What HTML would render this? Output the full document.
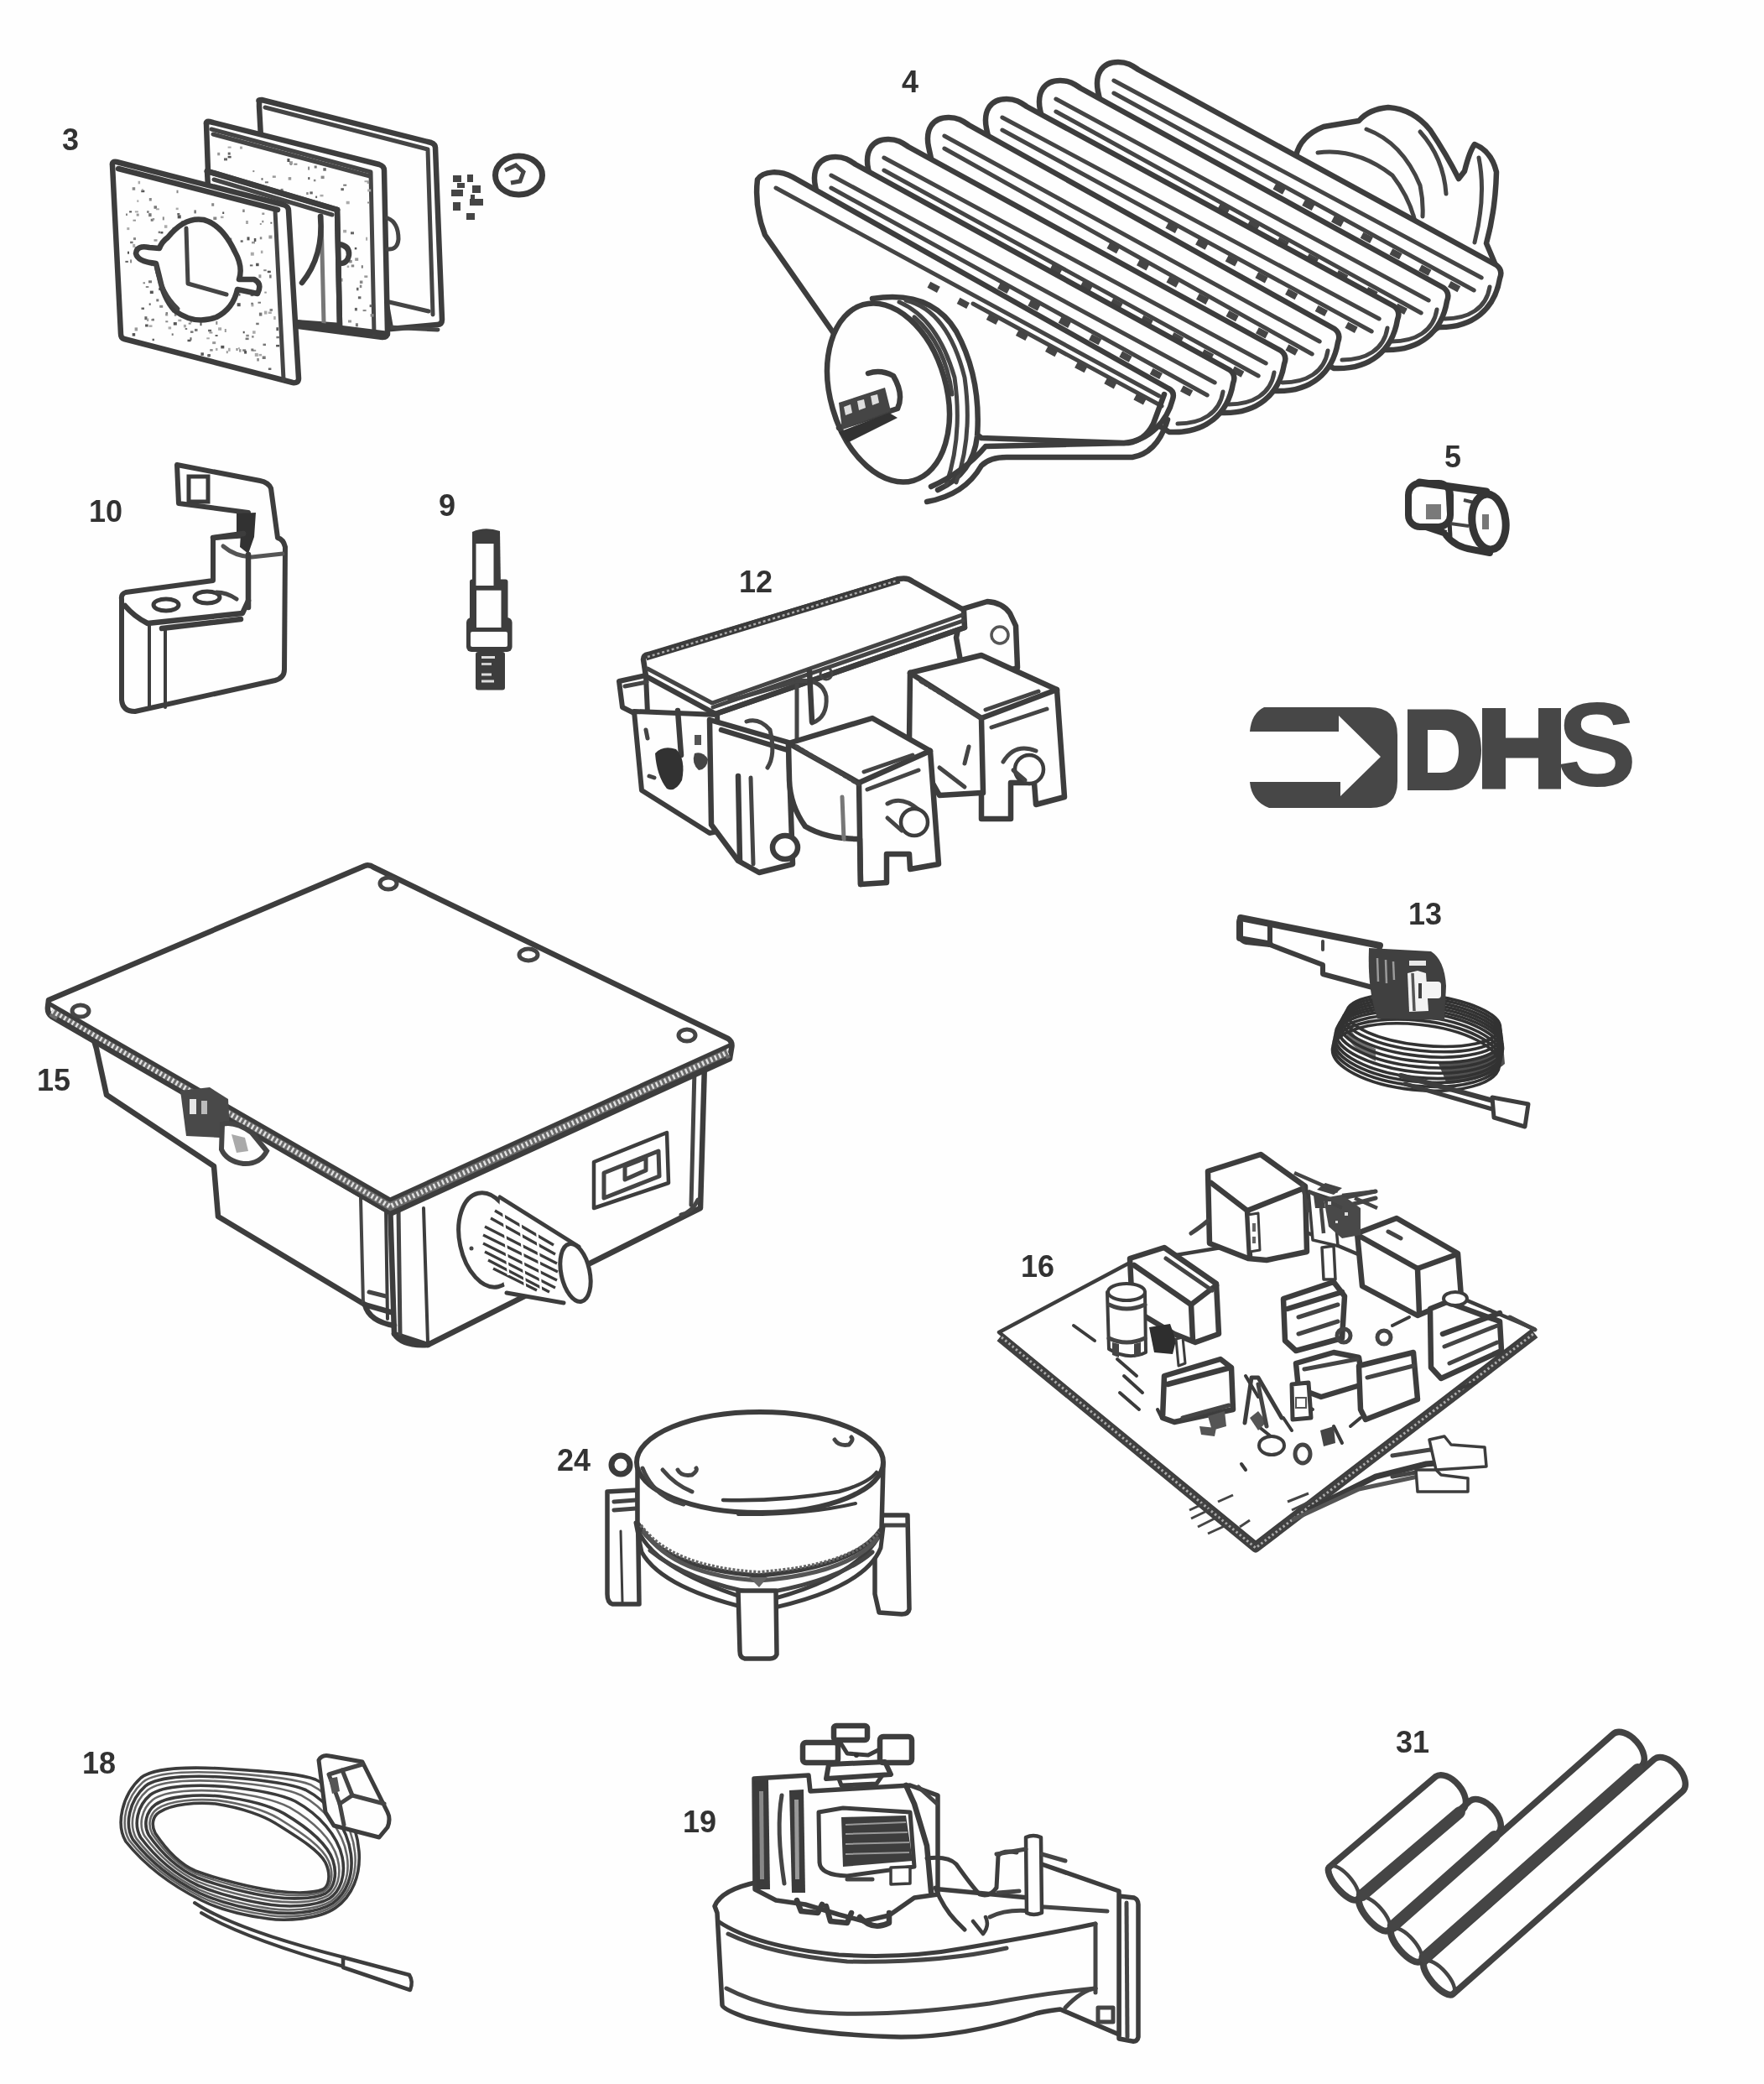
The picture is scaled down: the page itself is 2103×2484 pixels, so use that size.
<!DOCTYPE html>
<html><head><meta charset="utf-8"><title>Parts</title>
<style>
html,body{margin:0;padding:0;background:#fefefe;}
body{width:2103px;height:2484px;overflow:hidden;}
svg{display:block;}
.lb{font-family:"Liberation Sans",sans-serif;font-weight:bold;font-size:36px;fill:#333;}
.s{fill:none;stroke:#3e3e3e;stroke-width:6.5;stroke-linejoin:round;stroke-linecap:round;}
.t{fill:none;stroke:#444;stroke-width:5;stroke-linejoin:round;stroke-linecap:round;}
.w{fill:#fefefe;stroke:#3e3e3e;stroke-width:6.5;stroke-linejoin:round;stroke-linecap:round;}
.k{fill:#3a3a3a;stroke:none;}
</style></head>
<body>
<svg width="2103" height="2484" viewBox="0 0 2103 2484">
<defs><filter id="soft" filterUnits="userSpaceOnUse" x="0" y="0" width="2103" height="2484"><feGaussianBlur stdDeviation="0.7"/></filter></defs>
<rect width="2103" height="2484" fill="#fefefe"/>
<g filter="url(#soft)">
<!-- labels -->
<g class="lb">
<text x="74" y="179">3</text>
<text x="1075" y="110">4</text>
<text x="1722" y="557">5</text>
<text x="106" y="622">10</text>
<text x="523" y="615">9</text>
<text x="881" y="706">12</text>
<text x="1679" y="1102">13</text>
<text x="44" y="1300">15</text>
<text x="1217" y="1522">16</text>
<text x="664" y="1753">24</text>
<text x="98" y="2114">18</text>
<text x="814" y="2184">19</text>
<text x="1664" y="2089">31</text>
</g>
<!--DHS-->
<g fill="#474747">
<path d="M1490,872 L1596,872 L1596,853 L1646,902 L1598,949 L1598,932 L1490,932 Q1492,955 1513,963 L1634,963 Q1666,963 1666,931 L1666,876 Q1666,843 1632,843 L1507,843 Q1492,850 1490,872 Z"/>
<path fill-rule="evenodd" d="M1678,845.5 L1726,845.5 C1754,845.5 1766,868 1766,894 C1766,920 1754,942 1726,942 L1678,942 Z M1702,870 L1718,870 C1733,870 1739,881 1739,895 C1739,910 1733,921 1718,921 L1702,921 Z"/>
<path d="M1767,844 L1795,844 L1795,879.5 L1834,879.5 L1834,844 L1861,844 L1861,940.5 L1834,940.5 L1834,903.5 L1795,903.5 L1795,940.5 L1767,940.5 Z"/>
<text x="1856" y="937" font-family="Liberation Sans" font-weight="bold" font-size="143" transform="translate(1856,937) scale(1.0,1) translate(-1856,-937)">S</text>
</g>
<!--C3-->
<g>
<!-- back plate -->
<path class="w" d="M309,121 Q307,119 312,119 L514,170 Q519,172 519,176 L527,381 Q527,387 521,387 L466,392 L460,358 L320,330 L309,127 Z"/>
<path class="t" d="M316,128 L510,178 L516,375"/>
<path class="t" d="M464,360 L511,371"/>
<path class="t" d="M462,390 L522,393"/>
<!-- middle plate -->
<path class="w" d="M246,148 Q245,144 250,145 L452,196 Q458,198 458,203 L462,396 Q462,402 456,402 L356,389 L250,262 Z"/>
<path class="t" d="M252,154 L442,205 L446,398"/>
<path class="t" d="M254,160 L441,210"/>
<rect x="341.7" y="291.6" width="3.5" height="3.5" fill="#999"/><rect x="412.7" y="239.8" width="4" height="3.5" fill="#aaa"/><rect x="369.3" y="228.4" width="3.5" height="3" fill="#666"/><rect x="277.6" y="326.0" width="2" height="4" fill="#888"/><rect x="434.3" y="328.4" width="4" height="2.5" fill="#999"/><rect x="262.8" y="268.6" width="2" height="2" fill="#666"/><rect x="418.7" y="315.4" width="3.5" height="3" fill="#888"/><rect x="365.2" y="229.1" width="2.5" height="3" fill="#888"/><rect x="259.2" y="181.8" width="3" height="3.5" fill="#999"/><rect x="440.6" y="363.1" width="3" height="3" fill="#666"/><rect x="350.4" y="194.7" width="4" height="2" fill="#888"/><rect x="278.6" y="226.3" width="2" height="2" fill="#aaa"/><rect x="258.9" y="205.9" width="2" height="3.5" fill="#888"/><rect x="436.1" y="282.7" width="2" height="4" fill="#aaa"/><rect x="296.4" y="303.9" width="3" height="2" fill="#777"/><rect x="321.7" y="363.8" width="2" height="2.5" fill="#666"/><rect x="385.3" y="200.2" width="3.5" height="3.5" fill="#666"/><rect x="381.5" y="231.9" width="4" height="2.5" fill="#aaa"/><rect x="398.2" y="278.1" width="3.5" height="2" fill="#888"/><rect x="334.6" y="224.9" width="3" height="4" fill="#777"/><rect x="437.7" y="215.4" width="2.5" height="3.5" fill="#999"/><rect x="373.9" y="213.8" width="2.5" height="2.5" fill="#888"/><rect x="307.6" y="324.8" width="3" height="3" fill="#888"/><rect x="271.6" y="185.9" width="4" height="2.5" fill="#555"/><rect x="367.7" y="262.4" width="3.5" height="2.5" fill="#999"/><rect x="347.4" y="295.6" width="3.5" height="2.5" fill="#aaa"/><rect x="289.4" y="347.3" width="4" height="2.5" fill="#aaa"/><rect x="295.1" y="316.0" width="4" height="2.5" fill="#aaa"/><rect x="432.6" y="369.1" width="4" height="2" fill="#888"/><rect x="267.0" y="188.4" width="4" height="3" fill="#666"/><rect x="392.7" y="271.8" width="3.5" height="4" fill="#888"/><rect x="311.5" y="212.2" width="2" height="2.5" fill="#666"/><rect x="346.9" y="310.3" width="4" height="4" fill="#555"/><rect x="312.1" y="353.2" width="2.5" height="2" fill="#555"/><rect x="308.2" y="262.8" width="2" height="2" fill="#666"/><rect x="310.9" y="279.6" width="2.5" height="2" fill="#777"/><rect x="284.7" y="258.4" width="3" height="4" fill="#999"/><rect x="430.8" y="316.2" width="2" height="3.5" fill="#777"/><rect x="388.0" y="375.6" width="2" height="4" fill="#aaa"/><rect x="271.7" y="181.6" width="3" height="3" fill="#666"/><rect x="438.2" y="225.5" width="4" height="3" fill="#aaa"/><rect x="269.7" y="349.0" width="2.5" height="3" fill="#777"/><rect x="275.2" y="260.7" width="2" height="3.5" fill="#555"/><rect x="415.7" y="309.9" width="4" height="3.5" fill="#888"/><rect x="365.3" y="305.8" width="2" height="2" fill="#aaa"/><rect x="279.8" y="220.1" width="3.5" height="3" fill="#888"/><rect x="428.9" y="334.5" width="3.5" height="3.5" fill="#888"/><rect x="409.2" y="219.7" width="4" height="2" fill="#777"/><rect x="368.2" y="282.7" width="2.5" height="2" fill="#888"/><rect x="401.0" y="322.7" width="3.5" height="3" fill="#555"/><rect x="324.8" y="209.4" width="4" height="2.5" fill="#999"/><rect x="292.2" y="347.3" width="3.5" height="3.5" fill="#666"/><rect x="319.5" y="307.0" width="2.5" height="3.5" fill="#666"/><rect x="418.0" y="276.3" width="4" height="3" fill="#666"/><rect x="284.5" y="267.2" width="2" height="2" fill="#777"/><rect x="406.4" y="224.2" width="3.5" height="3" fill="#666"/><rect x="409.1" y="273.9" width="4" height="3.5" fill="#aaa"/><rect x="318.1" y="339.5" width="4" height="3.5" fill="#777"/><rect x="271.6" y="174.6" width="4" height="2" fill="#aaa"/><rect x="387.8" y="303.5" width="3" height="4" fill="#555"/><rect x="375.0" y="270.2" width="2.5" height="2" fill="#777"/><rect x="301.3" y="203.1" width="2" height="2" fill="#888"/><rect x="279.8" y="273.6" width="3" height="2" fill="#aaa"/><rect x="296.9" y="332.5" width="3" height="2.5" fill="#aaa"/><rect x="261.8" y="257.5" width="2" height="2.5" fill="#666"/><rect x="308.4" y="243.8" width="4" height="4" fill="#999"/><rect x="438.1" y="240.5" width="2.5" height="2" fill="#888"/><rect x="428.8" y="339.6" width="2.5" height="3.5" fill="#888"/><rect x="297.0" y="344.7" width="2" height="3.5" fill="#999"/><rect x="363.9" y="355.7" width="3" height="3.5" fill="#777"/><rect x="376.1" y="233.6" width="2" height="2.5" fill="#666"/><rect x="423.9" y="385.3" width="3" height="4" fill="#777"/><rect x="308.0" y="314.5" width="2" height="3" fill="#999"/><rect x="274.7" y="254.3" width="4" height="3.5" fill="#777"/><rect x="345.9" y="193.2" width="2" height="3.5" fill="#555"/><rect x="290.5" y="237.6" width="2.5" height="3.5" fill="#666"/><rect x="441.6" y="374.1" width="4" height="3.5" fill="#888"/><rect x="365.0" y="320.6" width="2.5" height="3.5" fill="#999"/><rect x="361.9" y="346.4" width="4" height="2.5" fill="#999"/><rect x="354.2" y="359.1" width="3" height="3" fill="#aaa"/><rect x="330.0" y="342.9" width="4" height="2.5" fill="#777"/><rect x="415.0" y="381.5" width="4" height="3" fill="#999"/><rect x="349.2" y="265.5" width="2" height="4" fill="#555"/><rect x="367.1" y="198.6" width="2" height="4" fill="#888"/><rect x="359.9" y="375.4" width="2" height="3.5" fill="#555"/><rect x="382.6" y="209.6" width="4" height="3.5" fill="#888"/><rect x="426.9" y="353.3" width="3.5" height="3" fill="#666"/><rect x="343.7" y="211.1" width="3.5" height="3.5" fill="#999"/><rect x="315.9" y="216.3" width="4" height="2" fill="#777"/><rect x="284.4" y="321.5" width="2" height="2" fill="#666"/><rect x="286.0" y="174.6" width="3" height="3" fill="#aaa"/><rect x="324.4" y="299.3" width="2" height="3.5" fill="#aaa"/><rect x="366.2" y="351.0" width="4" height="3" fill="#aaa"/><rect x="295.7" y="276.1" width="3.5" height="2" fill="#888"/><rect x="375.2" y="347.8" width="4" height="2.5" fill="#999"/><rect x="297.3" y="295.8" width="2.5" height="4" fill="#666"/><rect x="413.7" y="316.5" width="2.5" height="2.5" fill="#aaa"/><rect x="372.4" y="259.0" width="2.5" height="3" fill="#999"/><rect x="318.4" y="355.4" width="2.5" height="2.5" fill="#555"/><rect x="283.1" y="217.5" width="2" height="3" fill="#888"/><rect x="278.8" y="330.6" width="3.5" height="4" fill="#aaa"/><rect x="282.3" y="248.7" width="2" height="2" fill="#666"/><rect x="362.0" y="258.5" width="3" height="2" fill="#aaa"/><rect x="352.1" y="330.9" width="4" height="2.5" fill="#555"/><rect x="344.9" y="192.2" width="4" height="4" fill="#999"/><rect x="422.8" y="294.9" width="2.5" height="2.5" fill="#555"/><rect x="298.1" y="335.9" width="3" height="2" fill="#999"/><rect x="273.0" y="352.6" width="3.5" height="2" fill="#555"/><rect x="318.7" y="269.1" width="4" height="3" fill="#888"/><rect x="297.3" y="246.5" width="2" height="2.5" fill="#666"/><rect x="332.9" y="252.1" width="3" height="3.5" fill="#666"/><rect x="367.3" y="211.1" width="2" height="3" fill="#555"/><rect x="405.1" y="331.6" width="3.5" height="4" fill="#999"/><rect x="294.7" y="286.3" width="3" height="3" fill="#777"/><rect x="425.0" y="342.8" width="2.5" height="3.5" fill="#666"/><rect x="422.9" y="366.9" width="3" height="3.5" fill="#666"/><rect x="333.9" y="320.6" width="2" height="3" fill="#777"/><rect x="342.4" y="189.0" width="3" height="4" fill="#555"/><rect x="303.6" y="356.8" width="3" height="3" fill="#666"/><rect x="379.0" y="301.4" width="4" height="2" fill="#888"/><rect x="352.6" y="282.4" width="2.5" height="2" fill="#888"/><rect x="434.5" y="215.2" width="4" height="2" fill="#aaa"/><rect x="302.4" y="261.1" width="4" height="2" fill="#666"/><rect x="374.7" y="197.5" width="3" height="3" fill="#777"/><rect x="423.2" y="307.4" width="4" height="3.5" fill="#999"/><rect x="364.2" y="377.3" width="3.5" height="2" fill="#999"/><rect x="368.6" y="334.3" width="2" height="3.5" fill="#666"/><rect x="331.3" y="366.7" width="3.5" height="4" fill="#999"/><rect x="367.1" y="273.0" width="3.5" height="3.5" fill="#777"/><rect x="355.2" y="301.6" width="3" height="4" fill="#777"/>

<!-- spacer -->
<path class="w" d="M247,204 L402,250 L405,388 L350,384 L250,262 Z"/>
<path class="s" d="M247,204 L402,250" style="stroke-width:7"/>
<path class="t" d="M255,214 L396,256"/>
<path class="s" d="M402,250 L405,388"/>
<path class="t" d="M383,257 L386,385" style="stroke:#777"/>
<path class="s" d="M382,258 Q386,305 360,337"/>
<path class="s" d="M404,291 Q417,293 416,304 Q414,315 404,314"/>
<path class="t" d="M462,260 Q475,265 475,285 Q474,298 462,297"/>
<path class="s" d="M350,384 L462,398"/>
<!-- front plate -->
<path class="w" d="M134,197 Q133,192 139,193 L338,244 Q344,246 344,251 L356,451 Q356,457 349,456 L148,404 Q144,403 144,398 Z"/>
<path class="t" d="M328,251 L338,452"/>
<path class="s" d="M141,201 L331,250"/>
<rect x="233.9" y="282.1" width="3" height="3" fill="#555"/><rect x="150.0" y="254.5" width="2" height="2.5" fill="#888"/><rect x="283.3" y="318.2" width="3" height="3.5" fill="#555"/><rect x="254.7" y="373.2" width="3" height="2" fill="#666"/><rect x="225.7" y="319.1" width="2.5" height="2" fill="#999"/><rect x="168.5" y="366.5" width="3.5" height="2.5" fill="#666"/><rect x="254.3" y="258.5" width="4" height="3.5" fill="#888"/><rect x="172.4" y="377.2" width="3" height="4" fill="#666"/><rect x="170.9" y="297.6" width="3.5" height="3.5" fill="#999"/><rect x="196.5" y="330.9" width="3.5" height="3" fill="#aaa"/><rect x="247.5" y="423.0" width="3" height="2.5" fill="#666"/><rect x="235.1" y="326.4" width="3" height="4" fill="#999"/><rect x="298.8" y="300.7" width="4" height="4" fill="#aaa"/><rect x="255.9" y="356.5" width="2.5" height="2.5" fill="#666"/><rect x="240.0" y="356.0" width="2.5" height="2" fill="#aaa"/><rect x="158.5" y="261.7" width="3.5" height="2" fill="#999"/><rect x="154.1" y="251.4" width="3" height="2" fill="#555"/><rect x="309.8" y="282.3" width="2.5" height="3" fill="#888"/><rect x="232.6" y="270.6" width="3" height="3.5" fill="#aaa"/><rect x="175.2" y="379.5" width="2" height="3.5" fill="#999"/><rect x="301.1" y="394.3" width="3.5" height="3.5" fill="#aaa"/><rect x="197.2" y="374.1" width="3" height="2.5" fill="#aaa"/><rect x="299.4" y="361.4" width="3" height="4" fill="#aaa"/><rect x="294.5" y="282.4" width="3" height="4" fill="#555"/><rect x="230.5" y="291.4" width="4" height="2" fill="#888"/><rect x="249.9" y="327.0" width="3.5" height="3" fill="#555"/><rect x="160.9" y="251.4" width="4" height="2" fill="#aaa"/><rect x="204.9" y="360.1" width="3" height="3" fill="#666"/><rect x="189.2" y="343.1" width="3" height="3" fill="#555"/><rect x="206.3" y="306.9" width="4" height="3" fill="#888"/><rect x="247.4" y="422.0" width="3.5" height="3" fill="#666"/><rect x="223.5" y="404.7" width="4" height="2.5" fill="#555"/><rect x="212.8" y="294.4" width="3" height="3.5" fill="#999"/><rect x="216.3" y="263.2" width="4" height="3" fill="#888"/><rect x="248.1" y="392.8" width="4" height="2.5" fill="#666"/><rect x="164.8" y="298.1" width="3" height="2" fill="#666"/><rect x="241.6" y="335.9" width="4" height="3" fill="#555"/><rect x="267.8" y="392.0" width="2" height="4" fill="#999"/><rect x="204.0" y="326.0" width="3" height="2" fill="#777"/><rect x="283.9" y="414.2" width="2" height="2" fill="#aaa"/><rect x="263.0" y="257.6" width="3.5" height="2.5" fill="#aaa"/><rect x="190.2" y="363.8" width="4" height="3" fill="#888"/><rect x="218.5" y="290.7" width="3" height="2.5" fill="#888"/><rect x="238.5" y="384.2" width="2" height="4" fill="#555"/><rect x="224.7" y="384.6" width="3" height="2" fill="#888"/><rect x="301.2" y="416.8" width="4" height="2" fill="#999"/><rect x="210.5" y="226.7" width="2" height="3.5" fill="#888"/><rect x="310.9" y="298.6" width="2.5" height="3.5" fill="#aaa"/><rect x="177.1" y="254.2" width="3.5" height="4" fill="#777"/><rect x="200.6" y="389.4" width="3.5" height="3" fill="#aaa"/><rect x="170.5" y="336.3" width="2.5" height="2" fill="#888"/><rect x="152.0" y="299.7" width="2" height="3" fill="#555"/><rect x="183.5" y="285.2" width="4" height="2.5" fill="#999"/><rect x="278.1" y="355.3" width="2.5" height="3.5" fill="#666"/><rect x="308.4" y="327.3" width="3" height="4" fill="#999"/><rect x="233.2" y="280.1" width="3.5" height="3" fill="#aaa"/><rect x="250.2" y="416.1" width="3.5" height="2.5" fill="#888"/><rect x="160.6" y="390.4" width="3.5" height="4" fill="#999"/><rect x="289.7" y="394.8" width="2" height="2.5" fill="#555"/><rect x="308.6" y="421.9" width="3.5" height="2.5" fill="#aaa"/><rect x="227.0" y="394.4" width="3.5" height="2.5" fill="#777"/><rect x="177.5" y="387.4" width="4" height="2.5" fill="#aaa"/><rect x="282.7" y="361.2" width="4" height="4" fill="#555"/><rect x="177.7" y="361.4" width="2" height="2.5" fill="#666"/><rect x="293.0" y="263.0" width="3" height="4" fill="#aaa"/><rect x="246.3" y="402.3" width="3.5" height="2" fill="#aaa"/><rect x="256.6" y="399.0" width="3" height="2" fill="#666"/><rect x="226.5" y="402.2" width="2" height="3.5" fill="#666"/><rect x="155.1" y="287.7" width="3.5" height="2.5" fill="#777"/><rect x="205.0" y="299.8" width="4" height="3" fill="#888"/><rect x="265.2" y="252.5" width="2" height="2.5" fill="#555"/><rect x="269.8" y="368.4" width="2" height="3.5" fill="#555"/><rect x="305.2" y="384.7" width="3.5" height="2.5" fill="#777"/><rect x="249.7" y="321.9" width="2" height="2.5" fill="#999"/><rect x="177.0" y="334.3" width="4" height="3" fill="#777"/><rect x="284.5" y="349.7" width="2" height="3" fill="#666"/><rect x="186.3" y="356.4" width="3" height="3" fill="#777"/><rect x="251.3" y="372.4" width="3" height="3.5" fill="#888"/><rect x="163.3" y="238.4" width="2" height="2.5" fill="#aaa"/><rect x="259.5" y="272.0" width="2.5" height="3.5" fill="#555"/><rect x="299.5" y="360.7" width="2" height="2" fill="#666"/><rect x="157.7" y="397.1" width="3.5" height="3.5" fill="#555"/><rect x="212.3" y="380.7" width="4" height="2.5" fill="#aaa"/><rect x="183.5" y="245.3" width="3.5" height="3.5" fill="#777"/><rect x="314.9" y="370.6" width="3.5" height="4" fill="#aaa"/><rect x="207.8" y="373.0" width="2.5" height="4" fill="#999"/><rect x="151.3" y="271.1" width="3" height="3" fill="#aaa"/><rect x="228.4" y="334.8" width="2.5" height="4" fill="#777"/><rect x="292.6" y="402.6" width="4" height="2.5" fill="#777"/><rect x="289.2" y="416.3" width="4" height="2.5" fill="#777"/><rect x="258.6" y="334.7" width="4" height="2.5" fill="#999"/><rect x="329.4" y="390.2" width="2.5" height="4" fill="#555"/><rect x="259.1" y="275.4" width="2" height="2.5" fill="#666"/><rect x="234.0" y="310.0" width="3" height="3" fill="#555"/><rect x="314.2" y="321.2" width="3.5" height="2" fill="#888"/><rect x="320.4" y="280.5" width="4" height="4" fill="#999"/><rect x="249.8" y="341.2" width="3" height="2.5" fill="#aaa"/><rect x="329.1" y="410.9" width="4" height="2.5" fill="#555"/><rect x="312.3" y="253.5" width="3" height="2.5" fill="#999"/><rect x="211.7" y="256.4" width="4" height="4" fill="#555"/><rect x="229.7" y="306.1" width="2.5" height="3" fill="#aaa"/><rect x="303.8" y="420.9" width="4" height="4" fill="#aaa"/><rect x="289.2" y="249.5" width="2.5" height="3.5" fill="#888"/><rect x="155.1" y="309.4" width="2" height="4" fill="#888"/><rect x="180.2" y="314.7" width="3" height="2.5" fill="#999"/><rect x="312.3" y="262.8" width="2" height="2.5" fill="#888"/><rect x="321.5" y="368.0" width="3.5" height="3" fill="#888"/><rect x="312.7" y="424.5" width="4" height="3.5" fill="#777"/><rect x="239.4" y="420.3" width="3.5" height="3.5" fill="#555"/><rect x="253.2" y="407.1" width="4" height="3" fill="#999"/><rect x="241.6" y="312.6" width="2" height="3" fill="#555"/><rect x="202.8" y="339.0" width="3.5" height="3.5" fill="#999"/><rect x="208.5" y="373.3" width="4" height="2" fill="#666"/><rect x="170.9" y="298.4" width="4" height="3.5" fill="#555"/><rect x="231.4" y="250.4" width="2.5" height="4" fill="#777"/><rect x="269.8" y="418.2" width="2" height="3" fill="#999"/><rect x="226.5" y="381.1" width="2.5" height="3.5" fill="#999"/><rect x="168.3" y="226.7" width="4" height="2.5" fill="#555"/><rect x="307.5" y="359.7" width="3.5" height="2" fill="#777"/><rect x="191.4" y="276.0" width="3" height="2.5" fill="#555"/><rect x="227.6" y="314.4" width="4" height="3.5" fill="#666"/><rect x="213.4" y="336.1" width="2" height="3" fill="#555"/><rect x="229.1" y="289.1" width="3" height="3.5" fill="#666"/><rect x="319.9" y="438.5" width="3.5" height="2.5" fill="#666"/><rect x="204.7" y="397.4" width="2" height="2.5" fill="#777"/><rect x="297.9" y="315.4" width="3.5" height="2" fill="#666"/><rect x="264.2" y="371.0" width="4" height="2.5" fill="#999"/><rect x="260.0" y="274.4" width="2" height="2" fill="#777"/><rect x="277.5" y="302.1" width="3" height="3.5" fill="#aaa"/><rect x="305.1" y="313.7" width="3.5" height="3.5" fill="#555"/><rect x="181.6" y="379.7" width="2" height="2.5" fill="#777"/><rect x="179.7" y="260.8" width="3" height="3" fill="#777"/><rect x="293.1" y="346.1" width="2" height="4" fill="#999"/><rect x="188.7" y="275.6" width="2.5" height="2.5" fill="#777"/><rect x="173.8" y="341.0" width="3.5" height="2" fill="#888"/><rect x="309.8" y="266.0" width="2" height="2" fill="#999"/><rect x="254.3" y="338.0" width="3.5" height="4" fill="#555"/><rect x="181.5" y="403.7" width="2.5" height="2.5" fill="#666"/><rect x="199.3" y="325.2" width="2.5" height="2.5" fill="#555"/><rect x="263.3" y="411.9" width="4" height="3.5" fill="#555"/><rect x="315.3" y="347.6" width="2.5" height="2" fill="#999"/><rect x="291.1" y="418.1" width="3" height="3.5" fill="#555"/><rect x="241.5" y="328.6" width="4" height="4" fill="#666"/><rect x="257.3" y="382.9" width="2" height="4" fill="#888"/><rect x="190.7" y="302.6" width="3" height="2.5" fill="#777"/><rect x="234.6" y="273.1" width="4" height="4" fill="#888"/><rect x="193.8" y="258.4" width="2" height="4" fill="#888"/><rect x="302.8" y="284.0" width="2.5" height="4" fill="#555"/><rect x="260.1" y="390.3" width="4" height="3.5" fill="#aaa"/><rect x="198.0" y="372.2" width="2" height="2" fill="#666"/><rect x="251.1" y="338.3" width="2.5" height="4" fill="#666"/><rect x="158.2" y="290.9" width="3" height="4" fill="#aaa"/><rect x="241.4" y="283.2" width="4" height="3.5" fill="#555"/><rect x="265.4" y="336.0" width="3.5" height="3" fill="#666"/><rect x="178.8" y="346.6" width="4" height="3.5" fill="#555"/><rect x="205.3" y="311.5" width="2.5" height="2" fill="#666"/><rect x="238.5" y="376.0" width="2.5" height="2.5" fill="#aaa"/><rect x="232.2" y="371.3" width="2" height="2" fill="#666"/><rect x="222.5" y="327.3" width="2" height="3.5" fill="#999"/><rect x="201.9" y="302.5" width="2" height="2" fill="#aaa"/><rect x="329.4" y="400.8" width="4" height="2.5" fill="#777"/><rect x="194.7" y="324.7" width="2.5" height="3.5" fill="#888"/><rect x="162.7" y="254.6" width="3" height="3" fill="#999"/><rect x="185.9" y="248.3" width="4" height="2" fill="#aaa"/><rect x="211.7" y="356.3" width="4" height="2.5" fill="#888"/><rect x="306.3" y="427.0" width="2.5" height="3.5" fill="#888"/><rect x="286.7" y="286.3" width="3" height="2.5" fill="#666"/><rect x="293.3" y="398.8" width="3.5" height="2.5" fill="#888"/><rect x="187.2" y="306.7" width="3" height="3.5" fill="#888"/><rect x="237.6" y="350.4" width="2.5" height="3.5" fill="#666"/><rect x="245.1" y="313.3" width="2" height="3" fill="#777"/><rect x="319.8" y="371.5" width="4" height="2.5" fill="#aaa"/><rect x="195.3" y="294.8" width="2.5" height="3" fill="#555"/><rect x="211.3" y="254.0" width="3" height="2.5" fill="#666"/><rect x="281.5" y="415.0" width="2" height="3" fill="#888"/><rect x="232.0" y="391.9" width="3.5" height="3" fill="#777"/><rect x="287.1" y="343.6" width="2" height="3" fill="#888"/><rect x="257.7" y="329.8" width="2.5" height="2.5" fill="#999"/><rect x="252.2" y="242.2" width="3" height="3.5" fill="#888"/><rect x="236.0" y="362.7" width="4" height="4" fill="#777"/><rect x="204.9" y="308.5" width="3.5" height="2.5" fill="#666"/><rect x="298.7" y="349.6" width="3.5" height="3.5" fill="#666"/><rect x="220.7" y="391.0" width="2.5" height="2" fill="#777"/><rect x="216.1" y="341.7" width="2.5" height="2" fill="#555"/><rect x="282.6" y="335.5" width="2" height="3" fill="#aaa"/><rect x="272.1" y="414.8" width="2.5" height="4" fill="#aaa"/><rect x="209.7" y="247.6" width="3" height="2.5" fill="#aaa"/><rect x="197.4" y="372.2" width="2" height="3.5" fill="#888"/><rect x="159.0" y="283.1" width="3" height="3" fill="#888"/><rect x="272.8" y="283.6" width="3.5" height="2.5" fill="#888"/><rect x="285.4" y="311.4" width="2.5" height="4" fill="#555"/><rect x="285.0" y="416.1" width="2.5" height="3.5" fill="#999"/><rect x="197.3" y="382.3" width="3" height="2" fill="#888"/><rect x="173.1" y="386.5" width="3.5" height="3" fill="#555"/><rect x="218.9" y="386.9" width="3" height="3.5" fill="#aaa"/><rect x="205.6" y="271.3" width="2" height="2" fill="#777"/><rect x="206.1" y="294.0" width="3" height="3" fill="#aaa"/><rect x="308.9" y="372.6" width="3.5" height="4" fill="#777"/><rect x="318.8" y="322.7" width="4" height="2.5" fill="#555"/><rect x="262.2" y="355.9" width="3.5" height="4" fill="#888"/><rect x="157.7" y="223.2" width="3.5" height="3.5" fill="#888"/><rect x="321.1" y="327.5" width="2.5" height="4" fill="#777"/><rect x="203.3" y="290.8" width="2" height="2.5" fill="#999"/><rect x="181.7" y="260.0" width="2.5" height="2.5" fill="#999"/><rect x="149.4" y="310.9" width="3.5" height="2" fill="#666"/><rect x="249.4" y="395.5" width="4" height="2" fill="#999"/><rect x="299.3" y="415.5" width="3" height="3" fill="#777"/><rect x="164.6" y="215.8" width="2.5" height="3.5" fill="#aaa"/><rect x="175.1" y="251.3" width="2.5" height="2.5" fill="#777"/><rect x="260.2" y="330.9" width="4" height="3" fill="#777"/><rect x="222.3" y="297.2" width="4" height="3.5" fill="#666"/><rect x="263.7" y="307.6" width="2.5" height="4" fill="#aaa"/><rect x="168.8" y="225.2" width="2" height="2" fill="#aaa"/><rect x="206.8" y="384.1" width="4" height="3.5" fill="#555"/><rect x="180.4" y="380.3" width="3.5" height="2" fill="#777"/><rect x="194.5" y="316.2" width="3.5" height="3" fill="#aaa"/><rect x="261.7" y="308.1" width="3" height="2.5" fill="#777"/><rect x="300.0" y="287.9" width="4" height="2.5" fill="#999"/><rect x="326.2" y="377.0" width="2.5" height="4" fill="#aaa"/><rect x="300.1" y="400.1" width="2.5" height="2.5" fill="#888"/><rect x="258.7" y="293.0" width="2.5" height="2" fill="#888"/><rect x="257.0" y="414.9" width="2.5" height="3" fill="#aaa"/><rect x="195.9" y="268.3" width="3.5" height="3.5" fill="#aaa"/><rect x="322.4" y="264.7" width="2" height="2" fill="#666"/><rect x="201.7" y="360.5" width="2" height="3.5" fill="#777"/><rect x="313.5" y="409.6" width="3.5" height="2.5" fill="#777"/><rect x="160.7" y="294.1" width="3" height="2.5" fill="#888"/><rect x="277.5" y="320.0" width="2.5" height="4" fill="#888"/><rect x="267.7" y="281.3" width="3" height="2.5" fill="#888"/><rect x="177.8" y="236.0" width="3" height="3.5" fill="#888"/>

<!-- keyhole -->
<path class="w" d="M200,283 Q220,258 243,262 Q265,268 280,300 Q290,318 285,333 L303,333 Q313,338 307,350 L283,345 Q278,368 258,378 Q232,388 208,370 Q195,356 190,330 L186,314 Q164,312 162,302 Q163,292 178,295 L190,296 Q193,288 200,283 Z"/>
<path class="t" d="M222,272 L224,338 L270,351"/>
<path class="t" d="M186,316 Q192,350 212,368"/>
</g>
<!-- washer & nut -->
<g fill="#444">
<rect x="538" y="226" width="14" height="8"/><rect x="540" y="209" width="10" height="8"/><rect x="557" y="208" width="7" height="9"/>
<rect x="563" y="221" width="10" height="9"/><rect x="545" y="218" width="9" height="6"/><rect x="560" y="237" width="16" height="8"/>
<rect x="561" y="232" width="5" height="10"/><rect x="540" y="241" width="9" height="10"/><rect x="556" y="254" width="10" height="8"/>
</g>
<ellipse cx="618.5" cy="209" rx="28" ry="23" fill="none" stroke="#3a3a3a" stroke-width="7"/>
<path d="M602,203 L615,197 L624,205 L620,216 L609,218" fill="none" stroke="#444" stroke-width="5"/>

<!--C4-->
<path class="w" d="M1545,186 Q1550,162 1578,151 L1620,144 Q1632,130 1655,128 Q1685,130 1705,155 Q1725,185 1739,213 L1746,204 Q1752,180 1758,172 Q1778,180 1784,205 Q1783,250 1772,290 L1783,316 L1760,360 L1700,400 L1600,300 Z"/>
<path class="t" d="M1571,182 Q1617,176 1660,209 Q1680,235 1687,264"/>
<path class="t" d="M1629,154 Q1672,170 1693,221 Q1697,240 1696,258"/>
<path class="t" d="M1693,157 Q1721,188 1724,231"/>
<path class="t" d="M1763,188 Q1772,233 1758,289"/>
<path class="w" d="M1309.0,109.0 C1305.0,89.0 1313.0,74.0 1333.0,74.0 C1345.0,74.0 1351.0,79.0 1357.0,83.0 L1784.0,316.0 Q1792.0,322.0 1788.0,332.0 C1782.0,368.0 1756.0,392.0 1712.0,390.0 L1319.0,155.0 Z"/>
<path class="t" d="M1327.9,96.0 L1766.2,331.0"/>
<path class="t" d="M1327.9,111.0 L1757.2,346.0"/>
<path class="t" d="M1776.0,342.0 C1772.0,368.0 1750.0,380.0 1722.0,380.0"/>
<rect x="1518.7" y="220.9" width="13" height="8" fill="#444" transform="rotate(28 1524.7 224.9)"/>
<rect x="1553.4" y="240.3" width="13" height="8" fill="#444" transform="rotate(28 1559.4 244.3)"/>
<rect x="1588.2" y="259.7" width="13" height="8" fill="#444" transform="rotate(28 1594.2 263.7)"/>
<rect x="1622.9" y="279.1" width="13" height="8" fill="#444" transform="rotate(28 1628.9 283.1)"/>
<rect x="1657.7" y="298.5" width="13" height="8" fill="#444" transform="rotate(28 1663.7 302.5)"/>
<rect x="1692.4" y="317.9" width="13" height="8" fill="#444" transform="rotate(28 1698.4 321.9)"/>
<rect x="1727.2" y="337.4" width="13" height="8" fill="#444" transform="rotate(28 1733.2 341.4)"/>
<path class="w" d="M1240.0,131.0 C1236.0,111.0 1244.0,96.0 1264.0,96.0 C1276.0,96.0 1282.0,101.0 1288.0,105.0 L1721.0,343.0 Q1729.0,349.0 1725.0,359.0 C1719.0,395.0 1693.0,419.0 1649.0,417.0 L1250.0,177.0 Z"/>
<path class="t" d="M1258.9,118.0 L1703.2,358.0"/>
<path class="t" d="M1258.9,133.0 L1694.2,373.0"/>
<path class="t" d="M1713.0,369.0 C1709.0,395.0 1687.0,407.0 1659.0,407.0"/>
<rect x="1452.3" y="245.1" width="13" height="8" fill="#444" transform="rotate(28 1458.3 249.1)"/>
<rect x="1487.6" y="264.9" width="13" height="8" fill="#444" transform="rotate(28 1493.6 268.9)"/>
<rect x="1522.8" y="284.8" width="13" height="8" fill="#444" transform="rotate(28 1528.8 288.8)"/>
<rect x="1558.1" y="304.6" width="13" height="8" fill="#444" transform="rotate(28 1564.1 308.6)"/>
<rect x="1593.3" y="324.4" width="13" height="8" fill="#444" transform="rotate(28 1599.3 328.4)"/>
<rect x="1628.6" y="344.3" width="13" height="8" fill="#444" transform="rotate(28 1634.6 348.3)"/>
<rect x="1663.8" y="364.1" width="13" height="8" fill="#444" transform="rotate(28 1669.8 368.1)"/>
<path class="w" d="M1176.0,153.0 C1172.0,133.0 1180.0,118.0 1200.0,118.0 C1212.0,118.0 1218.0,123.0 1224.0,127.0 L1662.0,365.0 Q1670.0,371.0 1666.0,381.0 C1660.0,417.0 1634.0,441.0 1590.0,439.0 L1186.0,199.0 Z"/>
<path class="t" d="M1194.9,140.0 L1644.2,380.0"/>
<path class="t" d="M1194.9,155.0 L1635.2,395.0"/>
<path class="t" d="M1654.0,391.0 C1650.0,417.0 1628.0,429.0 1600.0,429.0"/>
<rect x="1390.6" y="267.1" width="13" height="8" fill="#444" transform="rotate(28 1396.6 271.1)"/>
<rect x="1426.3" y="286.9" width="13" height="8" fill="#444" transform="rotate(28 1432.3 290.9)"/>
<rect x="1461.9" y="306.8" width="13" height="8" fill="#444" transform="rotate(28 1467.9 310.8)"/>
<rect x="1497.6" y="326.6" width="13" height="8" fill="#444" transform="rotate(28 1503.6 330.6)"/>
<rect x="1533.3" y="346.4" width="13" height="8" fill="#444" transform="rotate(28 1539.3 350.4)"/>
<rect x="1568.9" y="366.3" width="13" height="8" fill="#444" transform="rotate(28 1574.9 370.3)"/>
<rect x="1604.6" y="386.1" width="13" height="8" fill="#444" transform="rotate(28 1610.6 390.1)"/>
<path class="w" d="M1107.0,175.0 C1103.0,155.0 1111.0,140.0 1131.0,140.0 C1143.0,140.0 1149.0,145.0 1155.0,149.0 L1591.0,392.0 Q1599.0,398.0 1595.0,408.0 C1589.0,444.0 1563.0,468.0 1519.0,466.0 L1117.0,221.0 Z"/>
<path class="t" d="M1125.9,162.0 L1573.2,407.0"/>
<path class="t" d="M1125.9,177.0 L1564.2,422.0"/>
<path class="t" d="M1583.0,418.0 C1579.0,444.0 1557.0,456.0 1529.0,456.0"/>
<rect x="1320.7" y="291.4" width="13" height="8" fill="#444" transform="rotate(28 1326.7 295.4)"/>
<rect x="1356.2" y="311.6" width="13" height="8" fill="#444" transform="rotate(28 1362.2 315.6)"/>
<rect x="1391.7" y="331.9" width="13" height="8" fill="#444" transform="rotate(28 1397.7 335.9)"/>
<rect x="1427.2" y="352.1" width="13" height="8" fill="#444" transform="rotate(28 1433.2 356.1)"/>
<rect x="1462.7" y="372.4" width="13" height="8" fill="#444" transform="rotate(28 1468.7 376.4)"/>
<rect x="1498.2" y="392.6" width="13" height="8" fill="#444" transform="rotate(28 1504.2 396.6)"/>
<rect x="1533.7" y="412.9" width="13" height="8" fill="#444" transform="rotate(28 1539.7 416.9)"/>
<path class="w" d="M1035.0,201.0 C1031.0,181.0 1039.0,166.0 1059.0,166.0 C1071.0,166.0 1077.0,171.0 1083.0,175.0 L1527.0,418.0 Q1535.0,424.0 1531.0,434.0 C1525.0,470.0 1499.0,494.0 1455.0,492.0 L1045.0,247.0 Z"/>
<path class="t" d="M1053.9,188.0 L1509.2,433.0"/>
<path class="t" d="M1053.9,203.0 L1500.2,448.0"/>
<path class="t" d="M1519.0,444.0 C1515.0,470.0 1493.0,482.0 1465.0,482.0"/>
<rect x="1252.3" y="317.4" width="13" height="8" fill="#444" transform="rotate(28 1258.3 321.4)"/>
<rect x="1288.5" y="337.6" width="13" height="8" fill="#444" transform="rotate(28 1294.5 341.6)"/>
<rect x="1324.6" y="357.9" width="13" height="8" fill="#444" transform="rotate(28 1330.6 361.9)"/>
<rect x="1360.8" y="378.1" width="13" height="8" fill="#444" transform="rotate(28 1366.8 382.1)"/>
<rect x="1397.0" y="398.4" width="13" height="8" fill="#444" transform="rotate(28 1403.0 402.4)"/>
<rect x="1433.1" y="418.6" width="13" height="8" fill="#444" transform="rotate(28 1439.1 422.6)"/>
<rect x="1469.3" y="438.9" width="13" height="8" fill="#444" transform="rotate(28 1475.3 442.9)"/>
<path class="w" d="M972.0,222.0 C968.0,202.0 976.0,187.0 996.0,187.0 C1008.0,187.0 1014.0,192.0 1020.0,196.0 L1466.0,441.0 Q1474.0,447.0 1470.0,457.0 C1464.0,493.0 1438.0,517.0 1394.0,515.0 L982.0,268.0 Z"/>
<path class="t" d="M990.9,209.0 L1448.2,456.0"/>
<path class="t" d="M990.9,224.0 L1439.2,471.0"/>
<path class="t" d="M1458.0,467.0 C1454.0,493.0 1432.0,505.0 1404.0,505.0"/>
<rect x="1190.2" y="339.2" width="13" height="8" fill="#444" transform="rotate(28 1196.2 343.2)"/>
<rect x="1226.5" y="359.7" width="13" height="8" fill="#444" transform="rotate(28 1232.5 363.7)"/>
<rect x="1262.9" y="380.1" width="13" height="8" fill="#444" transform="rotate(28 1268.9 384.1)"/>
<rect x="1299.2" y="400.5" width="13" height="8" fill="#444" transform="rotate(28 1305.2 404.5)"/>
<rect x="1335.5" y="420.9" width="13" height="8" fill="#444" transform="rotate(28 1341.5 424.9)"/>
<rect x="1371.9" y="441.3" width="13" height="8" fill="#444" transform="rotate(28 1377.9 445.3)"/>
<rect x="1408.2" y="461.8" width="13" height="8" fill="#444" transform="rotate(28 1414.2 465.8)"/>
<path class="t" d="M915.9,224.0 L1375.2,478.0"/>
<path class="t" d="M915.9,239.0 L1366.2,493.0"/>
<path class="t" d="M1385.0,489.0 C1381.0,515.0 1359.0,527.0 1331.0,527.0"/>
<rect x="1116.1" y="357.4" width="13" height="8" fill="#444" transform="rotate(28 1122.1 361.4)"/>
<rect x="1152.6" y="378.4" width="13" height="8" fill="#444" transform="rotate(28 1158.6 382.4)"/>
<rect x="1189.1" y="399.4" width="13" height="8" fill="#444" transform="rotate(28 1195.1 403.4)"/>
<rect x="1225.6" y="420.4" width="13" height="8" fill="#444" transform="rotate(28 1231.6 424.4)"/>
<rect x="1262.1" y="441.4" width="13" height="8" fill="#444" transform="rotate(28 1268.1 445.4)"/>
<rect x="1298.6" y="462.4" width="13" height="8" fill="#444" transform="rotate(28 1304.6 466.4)"/>
<rect x="1335.1" y="483.4" width="13" height="8" fill="#444" transform="rotate(28 1341.1 487.4)"/>
<path class="w" d="M903.0,214.0 C900.0,240.0 905.0,262.0 912.0,280.0 L993.0,396.0 L1170.0,522.0 L1340.0,528.0 C1372.0,525.0 1392.0,500.0 1398.0,476.0 Q1401.0,467.0 1393.0,463.0 L945.0,211.0 C930.0,203.0 910.0,203.0 903.0,214.0 Z"/>
<path class="t" d="M925.0,224.0 L1382.0,472.0"/>
<rect x="1106.7" y="338.1" width="13" height="8" fill="#444" transform="rotate(28 1112.7 342.1)"/>
<rect x="1141.9" y="357.2" width="13" height="8" fill="#444" transform="rotate(28 1147.9 361.2)"/>
<rect x="1177.0" y="376.2" width="13" height="8" fill="#444" transform="rotate(28 1183.0 380.2)"/>
<rect x="1212.1" y="395.3" width="13" height="8" fill="#444" transform="rotate(28 1218.1 399.3)"/>
<rect x="1247.2" y="414.4" width="13" height="8" fill="#444" transform="rotate(28 1253.2 418.4)"/>
<rect x="1282.3" y="433.5" width="13" height="8" fill="#444" transform="rotate(28 1288.3 437.5)"/>
<rect x="1317.5" y="452.6" width="13" height="8" fill="#444" transform="rotate(28 1323.5 456.6)"/>
<rect x="1352.6" y="471.7" width="13" height="8" fill="#444" transform="rotate(28 1358.6 475.7)"/>
<path class="t" d="M1160.0,362.0 L1385.0,484.0"/>
<path d="M1040,356 Q1110,345 1140,395 Q1170,450 1165,520 Q1160,570 1120,586 L1075,585 Z" fill="#fefefe"/>
<path class="s" d="M1040,356 Q1110,345 1140,395 Q1170,450 1165,520 Q1160,565 1118,584"/>
<path class="t" d="M1080,358 Q1130,370 1150,450 Q1160,520 1140,575"/>
<path class="t" d="M1072,360 Q1118,380 1138,450 Q1148,520 1128,578"/>
<path class="t" d="M1090,378 Q1127,410 1135,470"/>
<ellipse class="w" cx="1059" cy="468" rx="69" ry="109" transform="rotate(-16 1059 468)"/>
<path class="s" d="M1035,445 Q1050,440 1065,448 Q1078,470 1070,487 L1000,510"/>
<path d="M1000,480 L1055,462 L1062,490 L1004,512 Z" fill="#444"/>
<path d="M1006,485 L1014,482 L1016,492 L1008,495Z M1022,478 L1030,476 L1032,486 L1024,489Z M1038,472 L1046,470 L1048,480 L1040,483Z" fill="#ddd"/>
<path d="M1000,515 L1060,492 L1070,498 L1010,528 Z" fill="#333"/>
<path class="s" d="M1110,580 Q1150,562 1175,532 L1345,528 Q1365,525 1375,505 L1388,470"/>
<path class="s" d="M1105,598 Q1150,590 1170,555 Q1180,545 1200,545 L1350,545 Q1380,540 1392,500"/>
<!--C5-->
<g>
<path d="M1690,575 L1772,585 L1776,658 L1750,655 L1724,638 L1700,630 Q1678,628 1678,610 L1678,592 Q1678,575 1690,575 Z" fill="#fefefe" stroke="none"/>
<path d="M1724,638 Q1735,652 1755,655 L1776,659" fill="none" stroke="#363636" stroke-width="8" stroke-linecap="round"/>
<path d="M1692,575 L1772,586" fill="none" stroke="#363636" stroke-width="9" stroke-linecap="round"/>
<rect x="1679" y="576" width="50" height="52" rx="14" fill="none" stroke="#363636" stroke-width="8"/>
<path d="M1700,628 L1724,636" fill="none" stroke="#363636" stroke-width="8"/>
<rect x="1700" y="601" width="18" height="18" fill="#7a7a7a"/>
<path d="M1726,584 L1729,640" fill="none" stroke="#363636" stroke-width="5"/>
<path d="M1729,624 L1751,627" fill="none" stroke="#444" stroke-width="4"/>
<path d="M1745,596 L1757,599" fill="none" stroke="#444" stroke-width="4"/>
<ellipse cx="1775" cy="622" rx="20" ry="33" fill="#fefefe" stroke="#363636" stroke-width="9" transform="rotate(-6 1775 622)"/>
<rect x="1767" y="613" width="8" height="18" fill="#777"/>
</g>
<!--C10-->
<g>
<path class="w" d="M211,554 L213,600 L296,611 L296,638 L254,641 L254,692 L150,706 Q144,708 145,714 L145,834 Q146,848 161,848 L328,811 Q339,808 339,798 L340,652 Q338,643 331,641 L323,582 Q320,575 310,573 Z" style="stroke-width:6"/>
<path d="M282,612 L305,611 L303,640 L296,660 L286,652 L287,636 L282,634 Z" fill="#333"/>
<rect x="225" y="568" width="23" height="30" fill="none" stroke="#3a3a3a" stroke-width="5"/>
<path class="s" d="M254,641 L290,636"/>
<path class="t" d="M266,651 Q280,663 300,664 L337,660" style="stroke:#555"/>
<path class="s" d="M296,661 L296,724"/>
<path class="s" d="M149,722 Q160,735 176,743 L289,731 L296,716" />
<path class="s" d="M193,749 L287,738"/>
<path class="s" d="M178,746 L178,845" style="stroke-width:4"/>
<path class="s" d="M197,748 L197,843" style="stroke-width:4"/>
<ellipse cx="198" cy="721" rx="15" ry="7" fill="none" stroke="#3a3a3a" stroke-width="5"/>
<ellipse cx="247" cy="712" rx="15" ry="7" fill="none" stroke="#3a3a3a" stroke-width="5"/>
<path class="t" d="M258,706 Q270,706 282,714"/>
</g>
<!--C9-->
<g>
<rect x="556" y="736" width="54.6" height="41" rx="6" fill="#3e3e3e"/>
<rect x="561" y="753" width="44" height="18" rx="2" fill="#fefefe"/>
<rect x="567" y="777" width="35" height="45.6" rx="3" fill="#3e3e3e"/>
<rect x="574" y="782" width="16" height="3" fill="#ddd"/><rect x="574" y="790" width="12" height="3" fill="#ccc"/>
<rect x="574" y="802.5" width="12" height="3" fill="#ddd"/><rect x="574" y="810.5" width="15" height="3" fill="#ddd"/>
<rect x="560" y="690.6" width="45.5" height="58.4" rx="3" fill="#3e3e3e"/>
<rect x="568" y="703.7" width="29.5" height="44.3" fill="#fefefe"/>
<path d="M563,634 Q578,627 596,633 L597,698 L563,698 Z" fill="#3e3e3e"/>
<rect x="567.5" y="648" width="21" height="50" fill="#fefefe"/>
</g>
<!--C12-->
<g>
<!-- right flange -->
<path class="w" d="M1147,726 L1177,717 Q1195,718 1204,731 L1211,746 L1213,796 L1150,815 L1140,760 Z"/>
<circle cx="1192" cy="757" r="10" fill="none" stroke="#555" stroke-width="3.5"/>
<!-- top cover -->
<path class="w" d="M767,786 Q767,781 773,780 L1072,690 Q1082,688 1088,693 L1149,727 L1150,748 L853,851 L770,806 Z"/>
<path class="t" d="M772,797 L849,838 L1147,733"/>
<path class="s" d="M853,851 L1150,748" />
<path class="t" d="M850,843 L1148,740" />
<path d="M770,783 L1072,691" fill="none" stroke="#3a3a3a" stroke-width="9"/><path d="M772,783 L1070,692" fill="none" stroke="#aaa" stroke-width="2.5" stroke-dasharray="3 3"/>
<!-- left end plate -->
<path class="w" d="M738,812 L770,805 L772,850 L756,850 L742,843 Z" style="stroke-width:6"/>
<path class="t" d="M745,818 L771,813"/>
<!-- left body -->
<path class="w" d="M756,848 L855,852 L860,990 L846,993 L765,942 Z" style="stroke-width:6"/>
<path class="s" d="M808,847 L812,900"/>
<path d="M781,898 Q790,888 806,893 Q818,905 813,930 Q805,945 795,940 Q783,925 781,898 Z" fill="#333"/>
<path d="M828,898 Q838,895 844,905 Q843,917 833,918 Q824,910 828,898Z" fill="#444"/>
<rect x="828" y="876" width="8" height="12" fill="#555"/>
<rect x="856" y="874" width="10" height="25" fill="#fefefe" stroke="#444" stroke-width="3"/>
<path class="t" d="M770,870 L772,880" /><path class="t" d="M774,925 L780,927"/>
<!-- middle lower block -->
<path class="w" d="M846,858 L940,885 L945,1030 L905,1040 L880,1026 L848,983 Z"/>
<path class="s" d="M880,925 L882,1026"/>
<path class="t" d="M895,927 L898,1030"/>
<path class="s" d="M860,870 L942,895"/>
<path class="t" d="M890,860 Q905,855 918,870 Q925,900 915,915"/>
<ellipse cx="936" cy="1010" rx="15" ry="14" class="w"/>
<path class="t" d="M870,835 L950,812 L950,880"/>
<path class="t" d="M950,812 Q980,808 985,830 Q987,855 968,862"/>
<path class="s" d="M965,800 L968,860"/>
<circle cx="985" cy="803" r="7" fill="none" stroke="#444" stroke-width="3"/>
<!-- solenoid 2 (right) -->
<path class="w" d="M1085,802 L1170,781 L1260,822 L1269,950 L1235,959 L1233,933 L1205,933 L1205,976 L1170,976 L1170,945 L1120,948 L1084,884 Z"/>
<path class="s" d="M1085,802 L1170,856 L1260,822"/>
<path class="s" d="M1170,856 L1172,945"/>
<path class="t" d="M1098,812 L1170,856" style="stroke-dasharray:3 3;stroke-width:5"/>
<path class="t" d="M1175,846 L1238,824"/>
<path class="t" d="M1182,867 L1248,845"/>
<path class="t" d="M1120,915 L1150,938"/>
<path class="t" d="M1155,890 L1150,910"/>
<path class="t" d="M1196,908 Q1210,885 1235,895"/>
<circle cx="1227" cy="917" r="17" class="w" style="stroke-width:4.5"/>
<path class="t" d="M1208,918 L1222,930"/>
<!-- solenoid 1 (front) -->
<path class="w" d="M940,886 L1040,856 L1109,895 L1119,1030 L1085,1036 L1084,1018 L1057,1018 L1057,1052 L1026,1054 L1025,1000 Q985,1000 960,985 Q942,960 941,930 Z"/>
<path class="s" d="M940,886 L1024,933 L1109,895"/>
<path class="s" d="M1024,933 L1026,1054"/>
<path class="t" d="M950,890 L1024,935" style="stroke-dasharray:3 3;stroke-width:5"/>
<path class="t" d="M1030,920 L1088,900"/>
<path class="t" d="M1034,941 L1095,918"/>
<path class="t" d="M1004,950 L1006,1000" style="stroke:#777"/>
<path class="t" d="M1058,958 Q1075,948 1095,965"/>
<circle cx="1090" cy="980" r="16" class="w" style="stroke-width:4.5"/>
<path class="t" d="M1058,975 L1075,990"/>
</g>
<!--C13-->
<g>
<!-- coil -->

<ellipse cx="1697.0" cy="1216" rx="92.0" ry="30.0" fill="none" stroke="#333" stroke-width="3.6" transform="rotate(6 1697 1216)"/>
<ellipse cx="1696.0" cy="1221" rx="93.6" ry="31.5" fill="none" stroke="#333" stroke-width="3.6" transform="rotate(6 1697 1221)"/>
<ellipse cx="1695.0" cy="1226" rx="95.2" ry="33.0" fill="none" stroke="#333" stroke-width="3.6" transform="rotate(6 1697 1226)"/>
<ellipse cx="1694.0" cy="1231" rx="96.8" ry="34.5" fill="none" stroke="#333" stroke-width="3.6" transform="rotate(6 1697 1231)"/>
<ellipse cx="1693.0" cy="1236" rx="98.4" ry="36.0" fill="none" stroke="#333" stroke-width="3.6" transform="rotate(6 1697 1236)"/>
<ellipse cx="1692.0" cy="1241" rx="100.0" ry="37.5" fill="none" stroke="#333" stroke-width="3.6" transform="rotate(6 1697 1241)"/>
<ellipse cx="1691.0" cy="1246" rx="100.0" ry="39.0" fill="none" stroke="#333" stroke-width="3.6" transform="rotate(6 1697 1246)"/>
<ellipse cx="1690.0" cy="1251" rx="100.0" ry="39.0" fill="none" stroke="#333" stroke-width="3.6" transform="rotate(6 1697 1251)"/>
<ellipse cx="1689.0" cy="1256" rx="100.0" ry="39.0" fill="none" stroke="#333" stroke-width="3.6" transform="rotate(6 1697 1256)"/>
<ellipse cx="1688.0" cy="1261" rx="100.0" ry="39.0" fill="none" stroke="#333" stroke-width="3.6" transform="rotate(6 1697 1261)"/>

<path d="M1715,1268 Q1765,1266 1792,1245 L1794,1268 Q1770,1290 1725,1292 Z" fill="#333" opacity="0.85"/><path d="M1605,1232 Q1610,1250 1640,1265 L1640,1250 Q1615,1240 1610,1225Z" fill="#333" opacity="0.7"/>
<!-- tail -->
<path class="s" d="M1670,1282 L1780,1312" style="stroke-width:6"/>
<path class="s" d="M1675,1292 L1779,1322" style="stroke-width:5"/>
<path class="w" d="M1779,1308 L1822,1316 L1818,1343 L1781,1332 Z" style="stroke-width:5"/>
<!-- probe -->
<path class="w" d="M1480,1094 L1645,1127 L1640,1178 L1577,1161 L1577,1150 L1514,1126 L1486,1123 Q1477,1121 1477,1110 L1477,1100 Q1477,1094 1480,1094 Z" style="stroke-width:6"/>
<path class="s" d="M1479,1094 L1645,1127" style="stroke-width:8"/>
<path class="s" d="M1478,1100 L1478,1118" style="stroke-width:8"/>
<path class="s" d="M1514,1102 L1514,1126" style="stroke-width:6"/>
<path class="t" d="M1577,1122 L1577,1132" style="stroke-width:4"/>
<path class="s" d="M1480,1119 L1514,1125" style="stroke-width:7"/>
<!-- sensor head -->
<path d="M1632,1130 L1706,1134 Q1722,1144 1724,1175 L1722,1216 L1642,1214 Q1630,1180 1632,1130 Z" fill="#3f3f3f"/>
<g stroke="#9a9a9a" stroke-width="2.5"><path d="M1642,1142 L1643,1170"/><path d="M1652,1144 L1653,1172"/><path d="M1661,1146 L1662,1168"/></g>
<path d="M1678,1160 L1690,1157 L1700,1160 L1703,1205 L1680,1206 Z" fill="#f2f2f2"/>
<rect x="1693" y="1170" width="25" height="20" rx="4" fill="#f4f4f4"/>
<path d="M1693,1172 L1693,1190" stroke="#3f3f3f" stroke-width="4"/>
<rect x="1680" y="1145" width="20" height="6" fill="#e8e8e8"/>
<path d="M1684,1160 L1686,1205" stroke="#555" stroke-width="3.5"/>
</g>
<!--C15-->
<g>
<!-- left face -->
<path class="w" d="M112,1240 L115,1250 L127,1305 L255,1390 L260,1450 L435,1555 L470,1565 L470,1440 L112,1240 Z"/>
<!-- front face -->
<path class="w" d="M465,1432 L840,1268 L835,1440 L705,1505 L510,1603 L470,1590 Z"/>
<path class="t" d="M828,1275 L824,1436"/>
<path class="t" d="M812,1448 Q825,1445 832,1430" />
<!-- corner column -->
<path class="t" d="M430,1428 L433,1555" style="stroke-width:4"/>
<path class="s" d="M460,1440 L462,1572" style="stroke-width:4"/>
<path class="t" d="M475,1440 L477,1590"/>
<path class="s" d="M505,1440 L510,1600" style="stroke-width:4"/>
<path class="t" d="M440,1540 L460,1545"/>
<path class="s" d="M435,1555 Q440,1575 470,1580"/>
<path class="s" d="M470,1590 Q480,1605 510,1603"/>
<!-- lid -->
<path class="w" d="M435,1032 Q440,1030 446,1034 L868,1238 Q874,1242 872,1250 L870,1262 L467,1446 L62,1212 Q56,1208 57,1200 L58,1192 Z"/>
<path d="M62,1205 L465,1438 L868,1254" fill="none" stroke="#6a6a6a" stroke-width="14" stroke-linejoin="round"/>
<path d="M62,1205 L465,1438 L868,1254" fill="none" stroke="#e0e0e0" stroke-width="6" stroke-dasharray="2.5 3"/>
<path d="M58,1196 L465,1430 L872,1245" fill="none" stroke="#3e3e3e" stroke-width="5" stroke-linejoin="round"/>
<path d="M68,1214 L465,1446 L866,1262" fill="none" stroke="#3e3e3e" stroke-width="4.5" stroke-linejoin="round"/>
<ellipse cx="463" cy="1053" rx="10" ry="7" class="t"/>
<ellipse cx="630" cy="1138" rx="11" ry="7" class="t"/>
<ellipse cx="819" cy="1234" rx="10" ry="7" class="t"/>
<ellipse cx="96" cy="1205" rx="10" ry="7" class="t"/>
<!-- left connectors -->
<path d="M215,1300 L250,1296 L272,1310 L274,1348 L262,1356 L222,1354 Z" fill="#4a4a4a"/>
<rect x="226" y="1310" width="8" height="18" fill="#e6e6e6"/><rect x="240" y="1312" width="7" height="16" fill="#bbb"/>
<path d="M265,1340 Q280,1336 300,1350 L318,1372 Q310,1388 290,1387 Q270,1384 264,1370 Z" fill="#fefefe" stroke="#444" stroke-width="6"/>
<path d="M276,1352 L292,1356 L296,1372 L282,1374 Z" fill="#aaa"/>
<!-- window -->
<path class="w" d="M708,1385 L795,1350 L797,1410 L708,1440 Z" style="stroke-width:4.5"/>
<path class="t" d="M720,1398 L785,1372 L786,1402 L720,1428 Z"/>
<path class="t" d="M745,1390 L770,1380 L770,1395 L745,1406 Z" />
<!-- knob -->
<ellipse cx="582" cy="1478" rx="34" ry="57" transform="rotate(-12 582 1478)" class="w" style="stroke-width:5"/>
<path class="w" d="M596,1428 L690,1485 L688,1550 L670,1553 L604,1541 Q590,1500 596,1428 Z" style="stroke:none"/>
<path class="s" d="M596,1427 L690,1486" style="stroke-width:5"/>
<path class="s" d="M604,1541 L672,1553" style="stroke-width:5"/>
<ellipse cx="686" cy="1517" rx="17" ry="35" transform="rotate(-12 686 1517)" class="w" style="stroke-width:5"/>
<g stroke="#3a3a3a" stroke-width="3.2" fill="none">
<path d="M590,1443 L660,1484"/><path d="M585,1452 L662,1495"/><path d="M578,1462 L664,1506"/><path d="M576,1472 L665,1516"/>
<path d="M576,1482 L664,1526"/><path d="M578,1492 L662,1535"/><path d="M582,1502 L655,1540"/><path d="M588,1512 L640,1538"/>
</g>
<g stroke="#fefefe" stroke-width="2.5" fill="none">
<path d="M600,1440 L606,1520"/><path d="M620,1450 L626,1535"/><path d="M640,1462 L645,1540"/>
</g>
<circle cx="562" cy="1488" r="2.5" fill="#444"/>
</g>
<!--C16-->
<g>
<!-- board -->
<path class="w" d="M1191,1588 L1347,1505 L1560,1470 L1829,1584 L1497,1839 Z" style="stroke-width:4.5"/>
<path d="M1192,1594 L1497,1845 L1830,1590" fill="none" stroke="#404040" stroke-width="11" stroke-linejoin="round"/>
<path d="M1194,1594 L1497,1845 L1828,1590" fill="none" stroke="#aaa" stroke-width="3" stroke-dasharray="2.5 3"/>
<path d="M1560,1800 L1640,1760 L1700,1745 L1760,1740" fill="none" stroke="#3a3a3a" stroke-width="7"/>
<path d="M1540,1812 L1620,1775 L1690,1760" fill="none" stroke="#555" stroke-width="5"/>
<path class="t" d="M1800,1570 L1830,1585" />
<!-- relay A (big, top) -->
<path class="w" d="M1440,1396 L1503,1376 L1556,1414 L1558,1492 L1510,1502 L1488,1500 L1442,1482 Z"/>
<path class="s" d="M1444,1410 L1487,1443 L1555,1416"/>
<path class="s" d="M1487,1443 L1490,1498"/>
<path class="w" d="M1488,1448 L1500,1446 L1502,1490 L1490,1492 Z" style="stroke-width:3"/>
<rect x="1493" y="1458" width="4" height="10" fill="#666"/><rect x="1493" y="1474" width="4" height="8" fill="#666"/>
<path class="t" d="M1420,1470 Q1432,1462 1440,1455"/>
<!-- relay B (right) -->
<path class="w" d="M1618,1470 L1665,1452 L1738,1494 L1742,1546 L1690,1568 L1624,1533 Z"/>
<path class="s" d="M1622,1474 L1690,1512 L1737,1495"/>
<path class="s" d="M1690,1512 L1692,1566"/>
<path class="t" d="M1655,1468 L1670,1476"/>
<!-- tall comps near top middle -->
<path class="w" d="M1560,1420 L1590,1430 L1595,1485 L1565,1478 Z" style="stroke-width:3.5"/>
<path d="M1566,1425 L1578,1428 L1580,1440 L1568,1440 Z M1583,1432 L1590,1434 L1590,1446 L1584,1446Z" fill="#444"/>
<path class="w" d="M1576,1487 L1590,1485 L1592,1525 L1578,1525 Z" style="stroke-width:3.5"/>
<path class="t" d="M1590,1430 L1640,1420"/><path class="t" d="M1595,1440 L1640,1428"/>
<path d="M1570,1418 L1580,1410 L1600,1416 L1590,1424 Z" fill="#444"/>
<!-- block C left -->
<path class="w" d="M1347,1500 L1388,1487 L1450,1530 L1453,1590 L1425,1600 L1400,1590 L1350,1560 Z"/>
<path class="s" d="M1352,1508 L1420,1555 L1450,1532"/>
<path class="s" d="M1420,1555 L1422,1598"/>
<path class="t" d="M1390,1500 L1445,1538"/>
<!-- capacitor -->
<path class="w" d="M1320,1540 L1322,1608 Q1345,1622 1366,1612 L1365,1540 Z" style="stroke-width:4"/>
<ellipse cx="1343" cy="1540" rx="22" ry="10" class="w" style="stroke-width:4"/>
<path class="t" d="M1322,1555 Q1343,1565 1365,1555"/><path class="t" d="M1322,1595 Q1343,1605 1365,1595"/>
<path d="M1326,1600 L1334,1602 L1334,1618 L1326,1615 Z M1352,1602 L1360,1600 L1360,1615 L1352,1618Z" fill="#444"/>
<!-- dark square -->
<path d="M1370,1582 L1395,1578 L1402,1598 L1398,1614 L1376,1612 Z" fill="#2e2e2e"/>
<path class="w" d="M1402,1596 L1410,1594 L1413,1625 L1405,1628 Z" style="stroke-width:3"/>
<!-- block D (bottom middle-left) -->
<path class="w" d="M1388,1640 L1455,1620 L1468,1630 L1470,1680 L1400,1695 L1386,1690 Z"/>
<path class="s" d="M1392,1650 L1467,1630"/>
<path class="t" d="M1410,1690 L1465,1675"/>
<!-- block E centre -->
<path class="w" d="M1530,1548 L1590,1528 L1603,1545 L1600,1595 L1545,1610 L1532,1598 Z"/>
<path class="s" d="M1535,1560 L1600,1540"/>
<path class="t" d="M1548,1570 L1595,1555"/>
<path class="t" d="M1548,1590 L1595,1575"/>
<!-- block F -->
<path class="w" d="M1545,1625 L1590,1612 L1620,1618 L1625,1650 L1575,1665 L1548,1655 Z"/>
<path class="t" d="M1555,1632 L1618,1620"/>
<circle cx="1602" cy="1592" r="8" class="t"/>
<circle cx="1650" cy="1594" r="8" class="t"/>
<!-- block G right-middle -->
<path class="w" d="M1620,1628 L1685,1612 L1690,1668 L1628,1692 L1622,1680 Z"/>
<path class="t" d="M1630,1642 L1685,1628"/>
<!-- block H right -->
<path class="w" d="M1705,1560 L1725,1552 L1788,1575 L1790,1610 L1718,1643 L1706,1630 Z"/>
<path class="s" d="M1720,1590 L1788,1565"/><path class="t" d="M1722,1605 L1785,1580"/><path class="t" d="M1728,1625 L1785,1600"/>
<ellipse cx="1735" cy="1548" rx="14" ry="8" class="w" style="stroke-width:4"/>
<!-- small parts -->
<g stroke="#3a3a3a" stroke-width="4" stroke-linecap="round" fill="none">
<path d="M1280,1580 L1305,1598"/><path d="M1332,1620 L1355,1640"/><path d="M1340,1640 L1362,1660"/>
<path d="M1335,1660 L1358,1680"/><path d="M1380,1680 L1385,1690"/><path d="M1485,1640 L1500,1665"/>
<path d="M1500,1700 L1515,1712"/><path d="M1530,1690 L1540,1705"/><path d="M1545,1668 L1565,1680"/>
<path d="M1590,1700 L1600,1720"/><path d="M1610,1700 L1622,1690"/><path d="M1480,1745 L1485,1752"/>
<path d="M1660,1580 L1680,1570"/><path d="M1740,1655 L1760,1648"/>
</g>
<ellipse cx="1516" cy="1723" rx="15" ry="11" class="w" style="stroke-width:4"/>
<ellipse cx="1553" cy="1733" rx="9" ry="11" class="t"/>
<path d="M1574,1705 L1590,1700 L1592,1720 L1578,1724 Z" fill="#444"/>
<path d="M1440,1688 L1460,1682 L1462,1700 L1445,1705 Z M1430,1700 L1450,1702 L1448,1712 L1432,1710Z" fill="#555"/>
<path d="M1490,1690 L1500,1682 L1510,1695 L1500,1705 Z" fill="#555"/>
<!-- dark cluster top -->
<path d="M1578,1428 L1600,1424 L1622,1440 L1622,1472 L1600,1476 L1584,1462 Z" fill="#4a4a4a"/>
<g stroke="#444" stroke-width="4.5" fill="none">
<path d="M1543,1398 L1575,1412 L1595,1420"/><path d="M1552,1410 L1560,1445"/><path d="M1600,1425 L1640,1420"/>
<path d="M1615,1428 L1642,1440"/><path d="M1575,1440 L1578,1470"/><path d="M1560,1420 L1600,1440"/>
</g>
<g fill="#ddd"><rect x="1583" y="1432" width="4" height="4"/><rect x="1603" y="1445" width="4" height="4"/><rect x="1592" y="1455" width="3" height="3"/></g>
<!-- extra small comps -->
<path class="s" d="M1484,1696 L1492,1642 L1500,1642 L1528,1690" style="stroke-width:5"/>
<path class="t" d="M1500,1650 L1510,1700"/>
<path class="w" d="M1540,1650 L1560,1648 L1563,1690 L1541,1692 Z" style="stroke-width:5"/>
<rect x="1545" y="1666" width="12" height="12" fill="#fefefe" stroke="#555" stroke-width="2"/>
<!-- connectors bottom right -->
<path class="t" d="M1660,1735 L1705,1728 L1740,1730"/>
<path class="t" d="M1660,1760 L1688,1755"/>
<path class="w" d="M1704,1716 L1722,1712 L1730,1722 L1770,1725 L1772,1748 L1712,1752 Z" style="stroke-width:3.5"/>
<path class="w" d="M1688,1752 L1712,1752 L1718,1758 L1750,1762 L1750,1778 L1690,1778 Z" style="stroke-width:3.5"/>
<!-- hatch near bottom -->
<g stroke="#444" stroke-width="3" fill="none">
<path d="M1418,1800 L1440,1790"/><path d="M1420,1810 L1445,1798"/><path d="M1428,1820 L1452,1808"/>
<path d="M1440,1828 L1462,1818"/><path d="M1452,1790 L1470,1782"/><path d="M1478,1820 L1490,1812"/>
<path d="M1535,1790 L1560,1780"/><path d="M1540,1800 L1565,1788"/>
</g>
</g>
<!--C24-->
<g>
<!-- legs (behind) -->
<path class="w" d="M724,1778 L760,1776 L762,1912 L730,1912 Q724,1910 724,1900 Z" style="stroke-width:5.5"/>
<path class="t" d="M732,1790 L758,1788"/><path class="t" d="M732,1800 L758,1798"/>
<path class="s" d="M740,1825 L742,1910" style="stroke-width:3"/>
<path class="w" d="M1043,1806 L1082,1806 L1084,1918 Q1083,1924 1075,1924 L1048,1922 L1043,1900 Z" style="stroke-width:5.5"/>
<path class="t" d="M1048,1818 L1080,1818"/>
<!-- base ring -->
<path class="w" d="M758,1815 Q770,1870 905,1910 Q1030,1880 1053,1820 L1050,1845 Q1030,1895 905,1920 Q790,1895 765,1850 Z" style="stroke-width:5"/>
<path class="t" d="M775,1848 Q820,1885 905,1900 Q1000,1885 1040,1850"/>
<!-- body cylinder -->
<path class="w" d="M760,1742 L760,1815 Q790,1870 905,1878 Q1020,1868 1051,1822 L1053,1745 Z" style="stroke-width:5.5"/>
<path d="M764,1818 Q800,1868 905,1874 Q1015,1866 1048,1826" fill="none" stroke="#666" stroke-width="4" stroke-dasharray="3 2"/>
<path class="t" d="M768,1826 Q805,1878 905,1884 Q1010,1876 1046,1834" style="stroke:#555"/>
<!-- top dome -->
<ellipse cx="906" cy="1743" rx="147" ry="60" class="w" style="stroke-width:6"/>
<path class="t" d="M766,1750 Q780,1785 815,1793" />
<path class="t" d="M790,1752 Q805,1770 825,1778" />
<path class="s" d="M862,1788 Q930,1790 1000,1778 Q1035,1768 1045,1755" style="stroke-width:4.5"/>
<path class="s" d="M880,1805 Q960,1806 1020,1792" style="stroke-width:4"/>
<path class="t" d="M808,1752 Q812,1760 825,1758 Q832,1753 830,1750"/>
<path class="t" d="M995,1716 Q1000,1724 1012,1722 Q1018,1716 1015,1713"/>
<!-- ring -->
<circle cx="740" cy="1746" r="11" fill="none" stroke="#3a3a3a" stroke-width="7"/>
<!-- front leg -->
<path class="w" d="M880,1896 L925,1896 L926,1972 Q924,1977 918,1977 L888,1977 Q882,1976 882,1968 Z" style="stroke-width:5.5"/>
<path d="M893,1880 L905,1892 L915,1880 Z" fill="#666"/>
</g>
<!--C18-->
<g>
<path d="M168.0,2119.0 C185.0,2105.0 240.0,2106.0 280.0,2109.0 C330.0,2112.0 360.0,2115.0 376.0,2121.0 C405.0,2135.0 425.0,2170.0 428.0,2207.0 C430.0,2235.0 420.0,2260.0 400.0,2274.0 C380.0,2288.0 340.0,2290.0 320.0,2287.0 C290.0,2283.0 260.0,2275.0 240.0,2265.0 C200.0,2245.0 170.0,2220.0 150.0,2195.0 C138.0,2175.0 145.0,2140.0 168.0,2119.0 Z" fill="none" stroke="#3a3a3a" stroke-width="3.6"/>
<path d="M170.6,2123.9 C187.4,2110.4 239.4,2111.0 277.2,2113.9 C325.2,2117.2 354.6,2121.0 370.2,2127.2 C399.0,2141.6 419.6,2174.2 423.2,2208.6 C425.8,2235.0 416.6,2258.6 398.2,2271.4 C378.8,2284.4 340.6,2285.9 321.0,2283.0 C291.2,2279.0 260.0,2270.8 239.2,2260.8 C201.2,2242.0 173.0,2217.6 154.2,2193.8 C143.0,2175.0 149.4,2143.0 170.6,2123.9 Z" fill="none" stroke="#666" stroke-width="2.6"/>
<path d="M173.3,2128.8 C189.8,2115.8 238.8,2116.1 274.5,2118.8 C320.4,2122.3 349.2,2127.0 364.5,2133.5 C393.0,2148.2 414.2,2178.4 418.4,2210.1 C421.6,2235.0 413.3,2257.1 396.4,2268.7 C377.6,2280.8 341.2,2281.8 321.9,2279.1 C292.4,2275.1 260.0,2266.6 238.3,2256.6 C202.4,2239.0 176.0,2215.2 158.4,2192.6 C148.1,2175.0 153.9,2146.0 173.3,2128.8 Z" fill="none" stroke="#3a3a3a" stroke-width="3.6"/>
<path d="M175.9,2133.8 C192.2,2121.2 238.2,2121.1 271.7,2123.8 C315.6,2127.5 343.8,2133.0 358.7,2139.7 C387.0,2154.8 408.8,2182.6 413.6,2211.7 C417.4,2235.0 409.9,2255.7 394.6,2266.1 C376.4,2277.2 341.8,2277.8 322.9,2275.1 C293.6,2271.1 260.0,2262.4 237.5,2252.4 C203.6,2236.0 179.0,2212.8 162.6,2191.4 C153.1,2175.0 158.3,2149.0 175.9,2133.8 Z" fill="none" stroke="#666" stroke-width="2.6"/>
<path d="M179.0,2139.5 C195.0,2127.5 237.5,2127.0 268.5,2129.5 C310.0,2133.5 337.5,2140.0 352.0,2147.0 C380.0,2162.5 402.5,2187.5 408.0,2213.5 C412.5,2235.0 406.0,2254.0 392.5,2263.0 C375.0,2273.0 342.5,2273.0 324.0,2270.5 C295.0,2266.5 260.0,2257.5 236.5,2247.5 C205.0,2232.5 182.5,2210.0 167.5,2190.0 C159.0,2175.0 163.5,2152.5 179.0,2139.5 Z" fill="none" stroke="#3a3a3a" stroke-width="3.6"/>
<path d="M182.1,2145.2 C197.8,2133.8 236.8,2132.9 265.3,2135.2 C304.4,2139.5 331.2,2147.0 345.3,2154.3 C373.0,2170.2 396.2,2192.4 402.4,2215.3 C407.6,2235.0 402.1,2252.3 390.4,2259.9 C373.6,2268.8 343.2,2268.2 325.1,2265.9 C296.4,2261.9 260.0,2252.6 235.5,2242.6 C206.4,2229.0 186.0,2207.2 172.4,2188.6 C164.9,2175.0 168.7,2156.0 182.1,2145.2 Z" fill="none" stroke="#666" stroke-width="2.6"/>
<path d="M185.2,2151.0 C200.6,2140.1 236.1,2138.8 262.1,2141.0 C298.8,2145.5 324.9,2154.0 338.6,2161.6 C366.0,2177.9 389.9,2197.3 396.8,2217.1 C402.7,2235.0 398.2,2250.6 388.3,2256.8 C372.2,2264.6 343.9,2263.5 326.2,2261.3 C297.8,2257.3 260.0,2247.7 234.5,2237.7 C207.8,2225.5 189.5,2204.4 177.3,2187.2 C170.8,2175.0 173.9,2159.5 185.2,2151.0 Z" fill="none" stroke="#3a3a3a" stroke-width="3.6"/>
<path d="M187.8,2155.9 C203.0,2145.5 235.5,2143.8 259.3,2145.9 C294.0,2150.7 319.5,2160.0 332.8,2167.8 C360.0,2184.5 384.5,2201.5 392.0,2218.7 C398.5,2235.0 394.8,2249.2 386.5,2254.2 C371.0,2261.0 344.5,2259.4 327.2,2257.3 C299.0,2253.3 260.0,2243.5 233.7,2233.5 C209.0,2222.5 192.5,2202.0 181.5,2186.0 C175.8,2175.0 178.3,2162.5 187.8,2155.9 Z" fill="none" stroke="#666" stroke-width="2.6"/>
<path d="M190.0,2160.0 C205.0,2150.0 235.0,2148.0 257.0,2150.0 C290.0,2155.0 315.0,2165.0 328.0,2173.0 C355.0,2190.0 380.0,2205.0 388.0,2220.0 C395.0,2235.0 392.0,2248.0 385.0,2252.0 C370.0,2258.0 345.0,2256.0 328.0,2254.0 C300.0,2250.0 260.0,2240.0 233.0,2230.0 C210.0,2220.0 195.0,2200.0 185.0,2185.0 C180.0,2175.0 182.0,2165.0 190.0,2160.0 Z" fill="none" stroke="#3a3a3a" stroke-width="3.6"/>
<!-- tail -->
<path class="s" d="M232,2268 Q280,2300 410,2333" style="stroke-width:4"/>
<path class="s" d="M240,2280 Q290,2310 410,2344" style="stroke-width:4"/>
<path class="w" d="M409,2333 L488,2354 Q493,2362 489,2372 L409,2345 Z" style="stroke-width:4.5"/>
<!-- connector -->
<path class="w" d="M380,2098 Q384,2091 393,2093 L432,2100 L462,2160 Q466,2168 462,2178 L452,2190 L398,2176 L388,2160 Z" style="stroke-width:5"/>
<path class="t" d="M392,2115 L408,2110 L420,2140 L405,2150 Z"/>
<path class="t" d="M420,2140 L458,2150"/>
<path class="t" d="M408,2110 L432,2103"/>
<path d="M392,2120 L402,2118 L405,2135 L396,2138 Z" fill="#555"/>
<path class="t" d="M405,2150 L410,2175"/>
</g>
<!--C19-->
<g>
<!-- flange plate -->
<path class="w" d="M1334,2260 L1352,2262 Q1357,2264 1357,2270 L1357,2428 Q1356,2434 1350,2433 L1334,2430 Z" style="stroke-width:5.5"/>
<path class="t" d="M1343,2268 L1344,2428"/>
<!-- housing -->
<path class="w" d="M852,2272 Q860,2252 905,2243 L1100,2250 L1226,2262 L1226,2224 L1242,2222 L1334,2254 L1334,2425 L1264,2395 Q1240,2398 1232,2401 Q1150,2428 1074,2428 Q960,2425 890,2405 Q862,2395 861,2390 L855,2280 Z" style="stroke-width:5.5"/>
<path class="s" d="M856,2290 Q900,2320 1000,2330 Q1080,2335 1150,2322 Q1250,2305 1306,2293" style="stroke-width:5"/>
<path class="t" d="M868,2305 Q920,2330 1010,2338 Q1120,2340 1200,2322"/>
<path class="t" d="M866,2370 Q920,2398 1000,2400 Q1080,2402 1180,2388 Q1250,2375 1306,2370"/>
<path class="t" d="M1306,2293 L1306,2375"/>
<path class="t" d="M1270,2393 Q1290,2372 1306,2370"/>
<rect x="1309" y="2393" width="18" height="17" class="t"/>

<path class="t" d="M1230,2272 L1320,2278"/>
<!-- motor frame -->
<path class="w" d="M899,2120 L964,2116 L966,2135 L1085,2128 L1118,2140 L1118,2258 L1090,2262 L1060,2283 L1030,2290 L1000,2282 L960,2270 L925,2265 L900,2252 Z" style="stroke-width:5.5"/>
<path d="M899,2122 L916,2121 L918,2252 L902,2252 Z" fill="#3a3a3a"/><path d="M905,2135 L910,2135 L911,2240 L906,2240Z" fill="#888"/>
<path class="t" d="M932,2140 Q925,2180 935,2245" />
<path d="M941,2134 L958,2133 L960,2256 L944,2256 Z" fill="#3a3a3a"/><path d="M947,2145 L952,2145 L953,2240 L948,2240Z" fill="#999"/>
<path class="w" d="M976,2160 L1005,2155 L1085,2160 L1090,2225 L1010,2236 Q978,2235 977,2220 Z" style="stroke-width:5"/>
<path d="M1003,2166 L1080,2164 L1088,2218 L1005,2225 Z" fill="#3d3d3d"/>
<g stroke="#999" stroke-width="2">
<path d="M1008,2175 L1080,2172"/><path d="M1008,2186 L1082,2184"/><path d="M1008,2198 L1084,2196"/><path d="M1008,2210 L1084,2208"/>
</g>
<path class="s" d="M1080,2128 L1090,2150 L1105,2200 L1110,2255"/>
<path class="t" d="M1095,2130 L1117,2150"/>
<path class="t" d="M1010,2240 L1040,2240"/>
<path class="w" d="M1062,2226 L1085,2225 L1085,2245 L1062,2246 Z" style="stroke-width:3.5"/>
<!-- gear bumps -->
<path class="s" d="M950,2265 L955,2278 L975,2280 L980,2270"/>
<path class="s" d="M985,2272 L990,2290 L1010,2292 L1015,2280"/>
<path class="s" d="M1025,2285 Q1040,2302 1060,2292 L1060,2280"/>
<!-- fan blades -->
<rect x="957" y="2077" width="42" height="24" rx="4" class="w" style="stroke-width:6.5"/>
<rect x="1049" y="2070" width="38" height="31" rx="4" class="w" style="stroke-width:6.5"/>
<rect x="994" y="2057" width="40" height="17" rx="3" class="w" style="stroke-width:6.5"/>
<path class="s" d="M988,2103 L1055,2100 L1062,2115 L985,2120 Z" style="stroke-width:6"/>
<path class="s" d="M1000,2074 L1010,2090 L1035,2092 L1049,2085" style="stroke-width:5"/>
<circle cx="1021" cy="2092" r="3" fill="#333"/>
<path class="s" d="M1000,2120 L1003,2128 L1045,2126 L1052,2116" style="stroke-width:5"/>
<!-- wire and bracket -->
<path class="s" d="M1105,2215 Q1130,2212 1140,2222 Q1160,2250 1168,2258 Q1180,2262 1188,2250 L1190,2212 Q1195,2205 1212,2208" style="stroke-width:5"/>
<path class="s" d="M1115,2250 Q1125,2275 1140,2290 L1150,2300" style="stroke-width:5"/>
<path class="t" d="M1190,2256 L1215,2254"/>
<path class="t" d="M1180,2285 Q1200,2275 1230,2278"/>
<path class="w" d="M1223,2190 Q1232,2186 1241,2190 L1242,2280 Q1232,2284 1224,2280 Z" style="stroke-width:4.5"/>
<path class="t" d="M1188,2210 L1223,2204"/><path class="t" d="M1242,2210 L1270,2218"/>
<path class="s" d="M1160,2290 L1172,2305 Q1180,2295 1175,2285" style="stroke-width:4.5"/>
</g>
<!--C31-->
<g><path d="M1617.5,2264.4 L1744.5,2156.4 A15,25.5 -40.4 0 0 1711.5,2117.6 L1584.5,2225.6 A9,25.5 -40.4 0 0 1617.5,2264.4 Z" fill="#fefefe"/><path d="M1654.9,2301.1 L1785.9,2185.1 A15,25.5 -41.5 0 0 1752.1,2146.9 L1621.1,2262.9 A9,25.5 -41.5 0 0 1654.9,2301.1 Z" fill="#fefefe"/><path d="M1692.9,2338.1 L1956.9,2105.1 A15,25.5 -41.4 0 0 1923.1,2066.9 L1659.1,2299.9 A9,25.5 -41.4 0 0 1692.9,2338.1 Z" fill="#fefefe"/><path d="M1731.9,2377.1 L2005.9,2135.1 A15,25.5 -41.5 0 0 1972.1,2096.9 L1698.1,2338.9 A9,25.5 -41.5 0 0 1731.9,2377.1 Z" fill="#fefefe"/>
<path d="M1617.5,2264.4 L1744.5,2156.4 A15,25.5 -40.4 0 0 1711.5,2117.6 L1584.5,2225.6 A9,25.5 -40.4 0 0 1617.5,2264.4 Z" fill="none" stroke="#424242" stroke-width="7.5" stroke-linejoin="round"/>
<ellipse cx="1602.5" cy="2243.7" rx="9" ry="24.5" transform="rotate(-40.4 1602.5 2243.7)" fill="none" stroke="#444" stroke-width="4.5"/>
<path d="M1654.9,2301.1 L1785.9,2185.1 A15,25.5 -41.5 0 0 1752.1,2146.9 L1621.1,2262.9 A9,25.5 -41.5 0 0 1654.9,2301.1 Z" fill="none" stroke="#424242" stroke-width="7.5" stroke-linejoin="round"/>
<ellipse cx="1639.5" cy="2280.7" rx="9" ry="24.5" transform="rotate(-41.5 1639.5 2280.7)" fill="none" stroke="#444" stroke-width="4.5"/>
<path d="M1692.9,2338.1 L1956.9,2105.1 A15,25.5 -41.4 0 0 1923.1,2066.9 L1659.1,2299.9 A9,25.5 -41.4 0 0 1692.9,2338.1 Z" fill="none" stroke="#424242" stroke-width="7.5" stroke-linejoin="round"/>
<ellipse cx="1677.5" cy="2317.7" rx="9" ry="24.5" transform="rotate(-41.4 1677.5 2317.7)" fill="none" stroke="#444" stroke-width="4.5"/>
<path d="M1731.9,2377.1 L2005.9,2135.1 A15,25.5 -41.5 0 0 1972.1,2096.9 L1698.1,2338.9 A9,25.5 -41.5 0 0 1731.9,2377.1 Z" fill="none" stroke="#424242" stroke-width="7.5" stroke-linejoin="round"/>
<ellipse cx="1716.5" cy="2356.7" rx="9" ry="24.5" transform="rotate(-41.5 1716.5 2356.7)" fill="none" stroke="#444" stroke-width="4.5"/>
<path d="M1623.8,2259.1 L1739.9,2160.3" stroke="#444" stroke-width="14" stroke-linecap="round"/>
<path d="M1660.8,2295.8 L1781.4,2189.1" stroke="#444" stroke-width="14" stroke-linecap="round"/>
<path d="M1698.4,2333.2 L1952.4,2109.1" stroke="#444" stroke-width="14" stroke-linecap="round"/></g>
</g>
</svg>
</body></html>
